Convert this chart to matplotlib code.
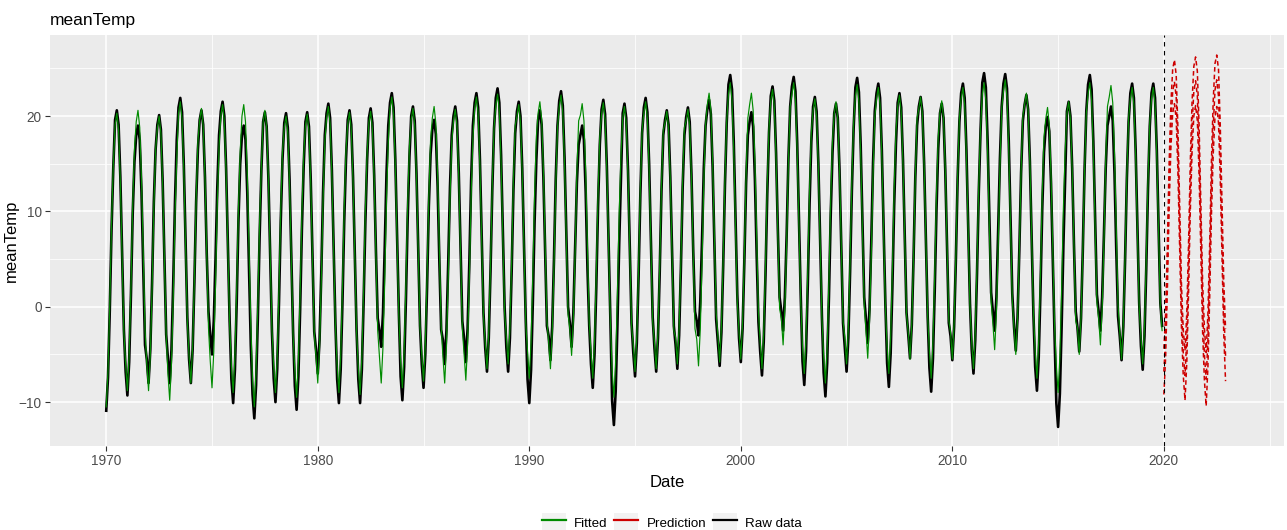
import numpy as np
import matplotlib
matplotlib.use("Agg")
import matplotlib.pyplot as plt
from matplotlib.patches import Patch
from matplotlib.lines import Line2D
from matplotlib.legend_handler import HandlerTuple

# monthly mean temperature, one row per year (Jan..Dec), 1970-2019
raw_temp = [
    [-10.9, -7.4, -0.4, 8.1, 14.6, 19.6, 20.6, 19.1, 13.6, 5.6, -2.4, -6.8],
    [-9.3, -5.8, 1.2, 9.7, 15.2, 18.0, 19.0, 17.5, 12.0, 4.0, -4.0, -5.5],
    [-8.0, -4.5, 2.5, 11.0, 16.5, 19.1, 20.1, 18.6, 13.1, 5.1, -2.9, -5.5],
    [-8.0, -4.5, 2.5, 11.0, 17.5, 20.9, 21.9, 20.4, 14.9, 6.9, -1.1, -5.5],
    [-8.0, -4.5, 2.5, 11.0, 16.5, 19.6, 20.6, 19.1, 13.6, 5.6, -0.5, -3.0],
    [-5.0, -1.5, 5.0, 12.5, 18.0, 20.5, 21.5, 20.0, 14.5, 6.5, -1.5, -7.6],
    [-10.1, -6.6, 0.4, 9.0, 15.0, 18.0, 19.0, 17.5, 12.0, 4.0, -4.0, -9.2],
    [-11.7, -8.2, -1.2, 7.3, 14.3, 19.4, 20.4, 18.9, 13.4, 5.4, -2.6, -7.5],
    [-10.0, -6.5, 0.5, 9.0, 15.5, 19.3, 20.3, 18.8, 13.3, 5.3, -2.7, -8.3],
    [-10.8, -7.3, -0.3, 8.2, 14.7, 19.4, 20.4, 18.9, 13.4, 5.4, -2.6, -4.5],
    [-7.0, -3.5, 3.5, 12.0, 18.0, 20.3, 21.3, 19.8, 14.3, 6.3, -1.7, -7.6],
    [-10.1, -6.6, 0.4, 8.9, 15.4, 19.6, 20.6, 19.1, 13.6, 5.6, -2.4, -7.6],
    [-10.1, -6.6, 0.4, 8.9, 15.4, 19.8, 20.8, 19.3, 13.8, 5.8, -1.2, -2.5],
    [-4.2, -0.7, 6.3, 14.0, 19.0, 21.4, 22.4, 20.9, 15.4, 7.4, -0.6, -7.3],
    [-9.8, -6.3, 0.7, 9.2, 15.7, 20.0, 21.0, 19.5, 14.0, 6.0, -2.0, -6.0],
    [-8.5, -5.0, 2.0, 10.5, 16.0, 18.6, 19.6, 18.1, 12.6, 4.6, -2.4, -3.5],
    [-6.0, -2.5, 4.5, 12.5, 18.0, 20.0, 21.0, 19.5, 14.0, 6.0, -1.5, -3.3],
    [-5.8, -2.3, 4.7, 13.2, 19.0, 21.4, 22.4, 20.9, 15.4, 7.4, -0.6, -4.3],
    [-6.8, -3.3, 3.7, 12.2, 18.7, 21.9, 22.9, 21.4, 15.9, 7.9, -0.1, -4.3],
    [-6.8, -3.3, 3.7, 12.2, 18.2, 20.5, 21.5, 20.0, 14.5, 6.5, -1.5, -7.6],
    [-10.1, -6.6, 0.4, 8.9, 15.4, 19.6, 20.6, 19.1, 13.6, 5.6, -2.0, -3.1],
    [-5.6, -2.1, 4.9, 13.4, 19.0, 21.6, 22.6, 21.1, 15.6, 7.6, 0.0, -1.7],
    [-4.2, -0.7, 6.3, 13.0, 17.0, 18.0, 19.0, 17.5, 12.0, 4.0, -2.0, -6.0],
    [-8.5, -5.0, 2.0, 10.5, 17.0, 20.7, 21.7, 20.2, 14.7, 6.7, -1.3, -9.9],
    [-12.4, -8.9, -1.9, 6.6, 13.6, 20.3, 21.3, 19.8, 14.3, 6.3, -1.7, -4.8],
    [-7.3, -3.8, 3.2, 11.7, 18.2, 20.9, 21.9, 20.4, 14.9, 6.9, -1.1, -4.3],
    [-6.8, -3.3, 3.7, 12.2, 18.0, 19.6, 20.6, 19.1, 13.6, 5.6, -2.0, -4.0],
    [-6.5, -3.0, 4.0, 12.5, 18.0, 19.9, 20.9, 19.4, 13.9, 5.9, -0.5, -1.5],
    [-3.0, 0.5, 7.0, 14.5, 19.0, 20.7, 21.7, 20.2, 14.7, 6.7, -1.3, -3.7],
    [-6.2, -2.7, 4.3, 12.8, 19.3, 23.3, 24.3, 22.8, 17.3, 9.3, 1.3, -3.3],
    [-5.8, -2.3, 4.7, 13.0, 18.0, 19.4, 20.4, 18.9, 13.4, 5.4, -1.6, -4.7],
    [-7.2, -3.7, 3.3, 11.8, 18.3, 22.1, 23.1, 21.6, 16.1, 8.1, 1.0, -0.5],
    [-2.5, 1.0, 7.5, 15.5, 21.0, 23.1, 24.1, 22.6, 17.1, 9.1, 1.1, -5.7],
    [-8.2, -4.7, 2.3, 10.8, 17.3, 21.0, 22.0, 20.5, 15.0, 7.0, -1.0, -6.9],
    [-9.4, -5.9, 1.1, 9.6, 16.1, 20.3, 21.3, 19.8, 14.3, 6.3, -1.7, -4.3],
    [-6.8, -3.3, 3.7, 12.2, 18.7, 23.0, 24.0, 22.5, 17.0, 9.0, 1.0, -1.3],
    [-3.8, -0.3, 6.7, 15.0, 20.5, 22.4, 23.4, 21.9, 16.4, 8.4, 0.4, -5.9],
    [-8.4, -4.9, 2.1, 10.6, 17.1, 21.4, 22.4, 20.9, 15.4, 7.4, -0.6, -2.9],
    [-5.4, -1.9, 5.1, 13.6, 19.0, 21.0, 22.0, 20.5, 15.0, 7.0, -1.0, -6.4],
    [-8.9, -5.4, 1.6, 10.1, 16.6, 20.3, 21.3, 19.8, 14.3, 6.3, -1.7, -3.1],
    [-5.6, -2.1, 4.9, 13.4, 19.4, 22.4, 23.4, 21.9, 16.4, 8.4, 0.4, -4.5],
    [-7.0, -3.5, 3.5, 12.0, 18.5, 23.5, 24.5, 23.0, 17.5, 9.5, 1.5, -0.5],
    [-2.5, 1.0, 8.0, 15.5, 21.0, 23.4, 24.4, 22.9, 17.4, 9.4, 1.4, -2.1],
    [-4.6, -1.1, 5.9, 14.0, 19.5, 21.2, 22.2, 20.7, 15.2, 7.2, -0.8, -6.3],
    [-8.8, -5.3, 1.7, 10.2, 16.2, 18.9, 19.9, 18.4, 12.9, 4.9, -3.1, -10.1],
    [-12.6, -9.1, -2.1, 6.4, 13.4, 20.5, 21.5, 20.0, 14.5, 6.5, -0.5, -2.2],
    [-4.7, -1.2, 5.8, 14.3, 20.5, 23.3, 24.3, 22.8, 17.3, 9.3, 1.3, -0.5],
    [-2.5, 1.0, 7.5, 14.5, 19.0, 20.0, 21.0, 19.5, 14.0, 6.0, -1.0, -3.1],
    [-5.6, -2.1, 4.9, 13.4, 19.4, 22.4, 23.4, 21.9, 16.4, 8.4, 0.4, -4.1],
    [-6.6, -3.1, 3.9, 12.4, 18.9, 22.4, 23.4, 21.9, 16.4, 8.4, 0.4, -2.0],
]

fitted_temp = [
    [-10.5, -6.7, 0.3, 8.8, 14.8, 19.1, 20.3, 18.5, 13.1, 5.1, -2.7, -6.0],
    [-8.8, -5.0, 2.0, 10.5, 16.5, 19.4, 20.6, 18.8, 13.4, 5.4, -2.4, -6.0],
    [-8.8, -5.0, 2.0, 10.5, 16.5, 18.8, 20.0, 18.2, 12.8, 4.8, -3.0, -7.0],
    [-9.8, -6.0, 1.0, 9.5, 15.5, 20.3, 21.5, 19.7, 14.3, 6.3, -1.5, -5.2],
    [-8.0, -4.2, 2.8, 11.3, 17.3, 19.6, 20.8, 19.0, 13.6, 5.6, -2.2, -5.7],
    [-8.5, -4.7, 2.3, 10.8, 16.8, 20.0, 21.2, 19.4, 14.0, 6.0, -1.8, -6.2],
    [-9.0, -5.2, 1.8, 10.3, 16.3, 20.0, 21.2, 19.4, 14.0, 6.0, -1.8, -7.7],
    [-10.5, -6.7, 0.3, 8.8, 14.8, 19.4, 20.6, 18.8, 13.4, 5.4, -2.4, -6.2],
    [-9.0, -5.2, 1.8, 10.3, 16.3, 18.8, 20.0, 18.2, 12.8, 4.8, -3.0, -6.7],
    [-9.5, -5.7, 1.3, 9.8, 15.8, 19.0, 20.2, 18.4, 13.0, 5.0, -2.8, -5.2],
    [-8.0, -4.2, 2.8, 11.3, 17.3, 19.8, 21.0, 19.2, 13.8, 5.8, -2.0, -6.2],
    [-9.0, -5.2, 1.8, 10.3, 16.3, 19.2, 20.4, 18.6, 13.2, 5.2, -2.6, -6.4],
    [-9.2, -5.4, 1.6, 10.1, 16.1, 19.3, 20.5, 18.7, 13.3, 5.3, -2.5, -5.2],
    [-8.0, -4.2, 2.8, 11.3, 17.3, 20.8, 22.0, 20.2, 14.8, 6.8, -1.0, -5.7],
    [-8.5, -4.7, 2.3, 10.8, 16.8, 19.6, 20.8, 19.0, 13.6, 5.6, -2.2, -5.0],
    [-7.8, -4.0, 3.0, 11.5, 17.5, 19.8, 21.0, 19.2, 13.8, 5.8, -2.0, -5.2],
    [-8.0, -4.2, 2.8, 11.3, 17.3, 19.5, 20.7, 18.9, 13.5, 5.5, -2.3, -4.9],
    [-7.7, -3.9, 3.1, 11.6, 17.6, 20.8, 22.0, 20.2, 14.8, 6.8, -1.0, -3.7],
    [-6.5, -2.7, 4.3, 12.8, 18.8, 21.1, 22.3, 20.5, 15.1, 7.1, -0.7, -3.2],
    [-6.0, -2.2, 4.8, 13.3, 19.0, 20.0, 21.2, 19.4, 14.0, 6.0, -1.8, -4.7],
    [-7.5, -3.7, 3.3, 11.8, 17.8, 20.3, 21.5, 19.7, 14.3, 6.3, -1.5, -3.7],
    [-6.5, -2.7, 4.3, 12.8, 18.8, 21.0, 22.2, 20.4, 15.0, 7.0, -0.8, -2.3],
    [-5.1, -1.3, 5.7, 14.2, 19.5, 20.1, 21.3, 19.5, 14.1, 6.1, -1.7, -4.7],
    [-7.5, -3.7, 3.3, 11.8, 17.8, 20.2, 21.4, 19.6, 14.2, 6.2, -1.6, -6.7],
    [-9.5, -5.7, 1.3, 9.8, 15.8, 19.8, 21.0, 19.2, 13.8, 5.8, -2.0, -4.0],
    [-6.8, -3.0, 4.0, 12.5, 18.5, 20.3, 21.5, 19.7, 14.3, 6.3, -1.5, -3.7],
    [-6.5, -2.7, 4.3, 12.8, 18.5, 19.3, 20.5, 18.7, 13.3, 5.3, -2.5, -3.2],
    [-6.0, -2.2, 4.8, 13.3, 18.8, 19.5, 20.7, 18.9, 13.5, 5.5, -2.3, -3.4],
    [-6.2, -2.4, 4.6, 13.1, 19.1, 21.2, 22.4, 20.6, 15.2, 7.2, -0.6, -3.0],
    [-5.8, -2.0, 5.0, 13.5, 19.5, 22.3, 23.5, 21.7, 16.3, 8.3, 0.5, -2.7],
    [-5.5, -1.7, 5.3, 13.8, 19.8, 21.2, 22.4, 20.6, 15.2, 7.2, -0.6, -3.7],
    [-6.5, -2.7, 4.3, 12.8, 18.8, 21.6, 22.8, 21.0, 15.6, 7.6, -0.2, -1.2],
    [-4.0, -0.2, 6.8, 15.3, 21.0, 22.3, 23.5, 21.7, 16.3, 8.3, 0.5, -4.2],
    [-7.0, -3.2, 3.8, 12.3, 18.3, 20.6, 21.8, 20.0, 14.6, 6.6, -1.2, -5.2],
    [-8.0, -4.2, 2.8, 11.3, 17.3, 20.3, 21.5, 19.7, 14.3, 6.3, -1.5, -3.2],
    [-6.0, -2.2, 4.8, 13.3, 19.3, 22.1, 23.3, 21.5, 16.1, 8.1, 0.3, -2.6],
    [-5.4, -1.6, 5.4, 13.9, 19.9, 21.8, 23.0, 21.2, 15.8, 7.8, 0.0, -4.2],
    [-7.0, -3.2, 3.8, 12.3, 18.3, 21.0, 22.2, 20.4, 15.0, 7.0, -0.8, -2.7],
    [-5.5, -1.7, 5.3, 13.8, 19.8, 20.8, 22.0, 20.2, 14.8, 6.8, -1.0, -4.7],
    [-7.5, -3.7, 3.3, 11.8, 17.8, 20.4, 21.6, 19.8, 14.4, 6.4, -1.4, -2.7],
    [-5.5, -1.7, 5.3, 13.8, 19.8, 21.8, 23.0, 21.2, 15.8, 7.8, 0.0, -3.7],
    [-6.5, -2.7, 4.3, 12.8, 18.8, 22.3, 23.5, 21.7, 16.3, 8.3, 0.5, -1.7],
    [-4.5, -0.7, 6.3, 14.8, 20.8, 22.6, 23.8, 22.0, 16.6, 8.6, 0.8, -2.2],
    [-5.0, -1.2, 5.8, 14.3, 20.0, 21.2, 22.4, 20.6, 15.2, 7.2, -0.6, -4.7],
    [-7.5, -3.7, 3.3, 11.8, 17.8, 19.7, 20.9, 19.1, 13.7, 5.7, -2.1, -6.2],
    [-9.0, -5.2, 1.8, 10.3, 16.3, 20.3, 21.5, 19.7, 14.3, 6.3, -1.5, -2.2],
    [-5.0, -1.2, 5.8, 14.3, 20.3, 22.3, 23.5, 21.7, 16.3, 8.3, 0.5, -1.2],
    [-4.0, -0.2, 6.8, 15.3, 21.0, 22.0, 23.2, 21.4, 16.0, 8.0, 0.2, -2.7],
    [-5.5, -1.7, 5.3, 13.8, 19.8, 21.8, 23.0, 21.2, 15.8, 7.8, 0.0, -3.2],
    [-6.0, -2.2, 4.8, 13.3, 19.3, 21.8, 23.0, 21.2, 15.8, 7.8, 0.0, -2.5],
]

# forecast 2020-2022 (mean and interval bounds)
pred_mean = [
    [-6.8, -3.0, 4.2, 12.8, 19.0, 22.6, 23.6, 22.0, 16.3, 8.2, 0.0, -4.8],
    [-7.2, -3.3, 4.0, 12.6, 18.9, 22.6, 23.7, 22.1, 16.3, 8.1, -0.1, -5.0],
    [-7.6, -3.5, 3.8, 12.5, 18.8, 22.7, 23.8, 22.1, 16.2, 8.0, -0.2, -5.2],
]
pred_upper = [
    [-4.4, -0.7, 6.5, 15.1, 21.3, 24.9, 25.9, 24.3, 18.6, 10.5, 2.3, -2.4],
    [-4.6, -0.7, 6.6, 15.2, 21.5, 25.2, 26.2, 24.7, 18.9, 10.7, 2.5, -2.3],
    [-4.8, -0.7, 6.6, 15.3, 21.6, 25.5, 26.4, 24.9, 19.0, 10.8, 2.6, -2.3],
]
pred_lower = [
    [-9.2, -5.3, 1.9, 10.5, 16.7, 20.3, 21.3, 19.7, 14.0, 5.9, -2.3, -7.2],
    [-9.8, -5.9, 1.4, 10.0, 16.3, 20.0, 21.1, 19.5, 13.7, 5.5, -2.7, -7.7],
    [-10.4, -6.3, 1.0, 9.7, 16.0, 19.9, 21.0, 19.3, 13.4, 5.2, -3.0, -7.8],
]

start_year = 1970
forecast_start = 2020
x_ticks = [1970, 1980, 1990, 2000, 2010, 2020]
y_ticks = [-10, 0, 10, 20]

raw = np.ravel(raw_temp)
fit = np.ravel(fitted_temp)
t_hist = start_year + np.arange(len(raw)) / 12
t_pred = forecast_start + np.arange(len(np.ravel(pred_mean))) / 12

plt.rcParams['font.family'] = ['Liberation Sans', 'DejaVu Sans']

fig = plt.figure(figsize=(12.87, 5.30), dpi=100)
ax = fig.add_axes([0.039, 0.1585, 0.959, 0.7755])
ax.set_facecolor('#EBEBEB')
for s in ax.spines.values():
    s.set_visible(False)

ax.plot(t_hist, raw, color='black', lw=1.9, zorder=3)
ax.plot(t_hist, fit, color='#008B00', lw=0.85, zorder=4)
for p in (pred_upper, pred_mean, pred_lower):
    ax.plot(t_pred, np.ravel(p), color='#CD0000', lw=1.1, ls=(0, (3, 2)), zorder=4)
ax.axvline(forecast_start, color='black', lw=0.8, ls=(0, (4, 4)), zorder=5)

ax.set_xlim(1967.35, 2025.7)
ax.set_ylim(-14.6, 28.5)
ax.set_xticks(x_ticks)
ax.set_xticks([1975, 1985, 1995, 2005, 2015, 2025], minor=True)
ax.set_yticks(y_ticks)
ax.set_yticks([-5, 5, 15, 25], minor=True)
ax.grid(which='major', color='white', lw=1.1, zorder=0)
ax.grid(which='minor', color='white', lw=0.55, zorder=0)
ax.set_axisbelow(True)
ax.tick_params(which='major', length=3.5, width=0.8, color='#333333',
               labelsize=9.8, labelcolor='#4D4D4D', pad=2.5)
ax.tick_params(which='minor', length=0)

ax.set_xlabel('Date', fontsize=12, labelpad=5)
ax.set_ylabel('meanTemp', fontsize=12, labelpad=0)
ax.set_title('meanTemp', fontsize=12.5, loc='left', pad=7)

key_bg = '#F2F2F2'
handles = [
    (Patch(facecolor=key_bg, edgecolor='none'), Line2D([], [], color='#008B00', lw=1.6)),
    (Patch(facecolor=key_bg, edgecolor='none'), Line2D([], [], color='#CD0000', lw=1.6)),
    (Patch(facecolor=key_bg, edgecolor='none'), Line2D([], [], color='black', lw=1.6)),
]
fig.legend(handles, ['Fitted', 'Prediction', 'Raw data'], loc='lower center',
           bbox_to_anchor=(0.522, -0.025), ncol=3, frameon=False, fontsize=9.6,
           handler_map={tuple: HandlerTuple(ndivide=1, pad=0)},
           handlelength=1.8, handleheight=1.7, handletextpad=0.6, columnspacing=0.5)

fig.savefig('out.png', dpi=100)
